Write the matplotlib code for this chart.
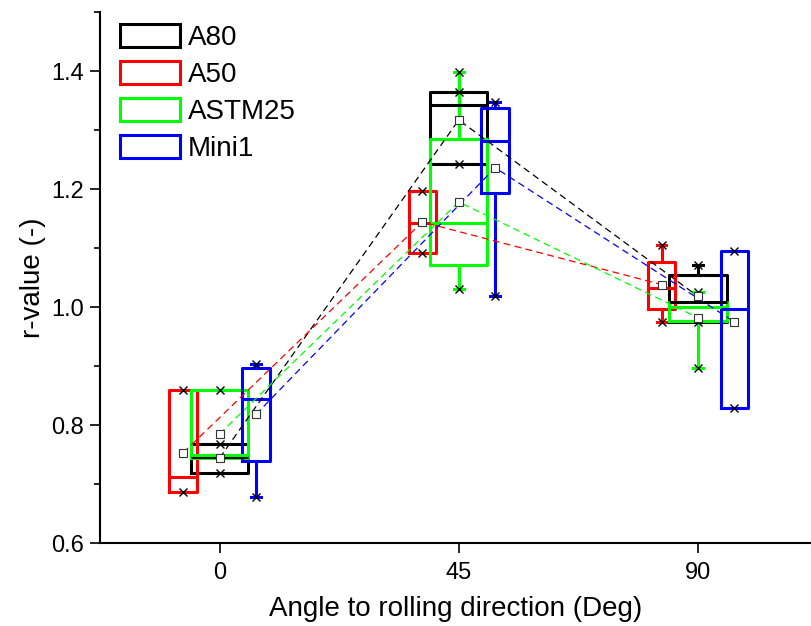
import numpy as np
import matplotlib.pyplot as plt
from matplotlib.patches import Patch

plt.rcParams['font.family'] = ['Liberation Sans', 'DejaVu Sans']

# Categories and series
angles = ['0', '45', '90']
series = ['A80', 'A50', 'ASTM25', 'Mini1']
colors = ['#000000', '#ff0000', '#00ff00', '#0000ff']

# Box statistics per series, one value per angle (0, 45, 90)
a80_q1 = [0.719, 1.242, 0.974]
a80_med = [0.746, 1.343, 1.008]
a80_q3 = [0.768, 1.364, 1.054]
a80_lo = [0.719, 1.242, 0.974]
a80_hi = [0.768, 1.364, 1.072]
a80_mean = [0.744, 1.317, 1.018]

a50_q1 = [0.686, 1.091, 0.997]
a50_med = [0.712, 1.142, 1.033]
a50_q3 = [0.859, 1.196, 1.077]
a50_lo = [0.686, 1.091, 0.974]
a50_hi = [0.859, 1.196, 1.105]
a50_mean = [0.753, 1.144, 1.038]

astm_q1 = [0.744, 1.072, 0.976]
astm_med = [0.749, 1.143, 1.000]
astm_q3 = [0.859, 1.285, 1.009]
astm_lo = [0.744, 1.030, 0.896]
astm_hi = [0.859, 1.398, 1.026]
astm_mean = [0.785, 1.178, 0.982]

mini_q1 = [0.739, 1.193, 0.829]
mini_med = [0.844, 1.281, 0.996]
mini_q3 = [0.897, 1.338, 1.095]
mini_lo = [0.678, 1.019, 0.829]
mini_hi = [0.904, 1.347, 1.095]
mini_mean = [0.818, 1.236, 0.975]

stats = {
    'A80': (a80_q1, a80_med, a80_q3, a80_lo, a80_hi, a80_mean),
    'A50': (a50_q1, a50_med, a50_q3, a50_lo, a50_hi, a50_mean),
    'ASTM25': (astm_q1, astm_med, astm_q3, astm_lo, astm_hi, astm_mean),
    'Mini1': (mini_q1, mini_med, mini_q3, mini_lo, mini_hi, mini_mean),
}

# box placement within each angle group
offsets = [0.0, -0.152, 0.0, 0.152]
widths = [0.24, 0.115, 0.24, 0.115]

fig = plt.figure(figsize=(8.12, 6.26), dpi=100)
ax = fig.add_axes([100 / 812, 1 - 543 / 626, 1 - 100 / 812, (543 - 12) / 626])

base = np.arange(1, len(angles) + 1)
for name, color, off, w in zip(series, colors, offsets, widths):
    q1, med, q3, lo, hi, mean = stats[name]
    pos = base + off
    bstats = [dict(q1=q1[i], med=med[i], q3=q3[i], whislo=lo[i], whishi=hi[i],
                   mean=mean[i], fliers=[]) for i in range(len(angles))]
    lw = 2.2
    ax.bxp(bstats, positions=pos, widths=w, capwidths=0.04, showmeans=False,
           boxprops=dict(color=color, linewidth=lw),
           whiskerprops=dict(color=color, linewidth=lw),
           capprops=dict(color=color, linewidth=lw),
           medianprops=dict(color=color, linewidth=lw),
           manage_ticks=False)
    # min / max markers
    ax.plot(pos, lo, linestyle='none', marker='x', color='black', ms=6, mew=1.0, zorder=4)
    ax.plot(pos, hi, linestyle='none', marker='x', color='black', ms=6, mew=1.0, zorder=4)
    # mean trend
    ax.plot(pos, mean, linestyle=(0, (5.5, 3.5)), color=color, linewidth=0.9, zorder=3)
    ax.plot(pos, mean, linestyle='none', marker='s', ms=5.5, mfc='white', mec='#333333',
            mew=0.8, zorder=5)

ax.set_xlim(0.5, 3.477)
ax.set_ylim(0.6, 1.5)
ax.set_xticks(base)
ax.set_xticklabels(angles)
ax.set_yticks([0.6, 0.8, 1.0, 1.2, 1.4])
ax.set_yticklabels(['0.6', '0.8', '1.0', '1.2', '1.4'])
ax.set_yticks([0.7, 0.9, 1.1, 1.3, 1.5], minor=True)

for side in ['top', 'right']:
    ax.spines[side].set_visible(False)
for side in ['left', 'bottom']:
    ax.spines[side].set_linewidth(1.5)
ax.tick_params(axis='both', which='major', length=7, width=1.2, labelsize=17)
ax.tick_params(axis='y', which='major', pad=4.5)
ax.tick_params(axis='x', which='major', pad=6.5)
ax.tick_params(axis='y', which='minor', length=4, width=1.2)

ax.set_xlabel('Angle to rolling direction (Deg)', fontsize=20, labelpad=9)
ax.set_ylabel('r-value (-)', fontsize=20, labelpad=4)

handles = [Patch(facecolor='white', edgecolor=c, linewidth=2.2, label=s)
           for s, c in zip(series, colors)]
leg = ax.legend(handles=handles, loc='upper left', frameon=False, fontsize=20,
                handlelength=2.16, handleheight=0.9, labelspacing=0.36,
                handletextpad=0.29, borderpad=0, borderaxespad=0,
                bbox_to_anchor=(0.028, 0.978))

fig.savefig('out.png', dpi=100)
